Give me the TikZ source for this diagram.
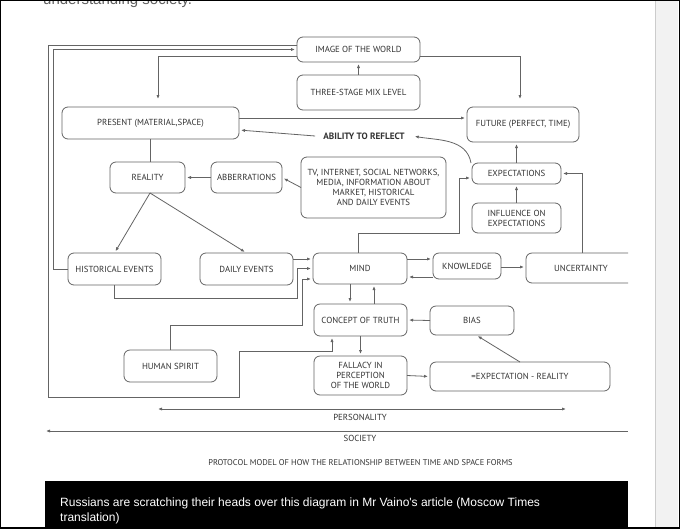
\documentclass[tikz,border=0pt]{standalone}
\usepackage{fontspec}
\setmainfont{PT Sans}
\newfontfamily\capfont{Liberation Sans}
\usetikzlibrary{arrows.meta}
\definecolor{linec}{RGB}{100,100,100}
\definecolor{txtc}{RGB}{50,50,50}
\definecolor{toptxt}{RGB}{95,95,95}
\tikzset{
  box/.style={draw=linec, line width=0.8pt, rounded corners=6pt, inner sep=0pt, outer sep=0pt,
    text=txtc, font=\fontsize{8.8}{10}\selectfont, align=center},
  lbl/.style={text=txtc, font=\fontsize{8.8}{10}\selectfont, inner sep=0pt},
  con/.style={draw=linec, line width=0.8pt},
  arr/.style={con, -{Latex[length=4pt,width=3.2pt]}, shorten >=2pt},
}
\begin{document}
\begin{tikzpicture}[x=1pt,y=-1pt]
\useasboundingbox (0,0) rectangle (680,528);
\begin{scope}
\clip (0,0) rectangle (680,528);
\fill[white] (0,0) rectangle (680,528);
% scrollbar
\fill[black!5] (655,0) rectangle (678,528);
\draw[black!20, line width=0.6pt] (655,0) -- (655,528);
% top cut text
\node[anchor=base west, inner sep=0pt, text=toptxt, font=\capfont\fontsize{15}{15}\selectfont] (top) at (43,4) {understanding society.};

% nodes
\node[box, minimum width=123, minimum height=25] (img) at (358.5,49.5) {IMAGE OF THE WORLD};
\node[box, minimum width=123, minimum height=35] (three) at (358.5,92.5) {THREE-STAGE MIX LEVEL};
\node[box, minimum width=177, minimum height=32] (present) at (150.5,123) {PRESENT (MATERIAL,SPACE)};
\node[box, minimum width=112, minimum height=35] (future) at (523,124.5) {FUTURE (PERFECT, TIME)};
\node[lbl, font=\fontsize{9.2}{10}\selectfont\bfseries, inner xsep=8pt, inner ysep=2pt] (ability) at (364,136) {ABILITY TO REFLECT};
\node[box, minimum width=75, minimum height=31] (reality) at (147.5,177.5) {REALITY};
\node[box, minimum width=71, minimum height=31] (abb) at (246.5,177.5) {ABBERRATIONS};
\node[box, minimum width=145, minimum height=61] (tv) at (373.5,187.5) {TV, INTERNET, SOCIAL NETWORKS,\\ MEDIA, INFORMATION ABOUT\\ MARKET, HISTORICAL\\ AND DAILY EVENTS};
\node[box, minimum width=89, minimum height=21] (expect) at (516.5,173.5) {EXPECTATIONS};
\node[box, minimum width=89, minimum height=30] (infl) at (516.5,218) {INFLUENCE ON\\ EXPECTATIONS};
\node[box, minimum width=93, minimum height=32] (hist) at (114.5,269) {HISTORICAL EVENTS};
\node[box, minimum width=93, minimum height=32] (daily) at (246.5,269) {DAILY EVENTS};
\node[box, minimum width=94, minimum height=31] (mind) at (360,268.5) {MIND};
\node[box, minimum width=68, minimum height=26] (know) at (467,266) {KNOWLEDGE};
\node[box, draw=none, minimum width=102, minimum height=30] (unc) at (577,268) {};
\node[lbl] (unctext) at (581,268) {UNCERTAINTY};
\draw[con, rounded corners=6pt] (unc.north east) -- (unc.north west) -- (unc.south west) -- (unc.south east);
\node[box, minimum width=93, minimum height=32] (concept) at (360.5,320) {CONCEPT OF TRUTH};
\node[box, minimum width=84, minimum height=29] (bias) at (472,320.5) {BIAS};
\node[box, minimum width=93, minimum height=32] (human) at (170.5,366) {HUMAN SPIRIT};
\node[box, minimum width=93, minimum height=39] (fallacy) at (360.5,375.5) {FALLACY IN\\ PERCEPTION\\ OF THE WORLD};
\node[box, minimum width=180, minimum height=29] (eq) at (520,376.5) {=EXPECTATION - REALITY};

% connectors
\draw[arr] (hist.west) -- ++(-15,0) |- (img.west);
\draw[arr] ([yshift=4.5pt]img.west) -| (48,397) -| (239,351) -| ([xshift=-28.5pt]concept.south);
\draw[arr, shorten >=8pt] ([yshift=-6.5pt]img.west) -| ([xshift=7.5pt]present.north);
\draw[arr, shorten >=8pt] ([yshift=-6.5pt]img.east) -| ([xshift=-3pt]future.north);
\draw[arr] (three.north) -- (img.south);
\draw[arr] ([yshift=5pt]present.east) -- ([yshift=6.5pt]future.west);
\draw[arr] (ability.west) -- ([yshift=-7pt]present.east);
\draw[arr] ([xshift=-1pt]expect.north west) to[out=100, in=-10] (ability.east);
\draw[arr] (expect.north) -- (expect.north |- future.south);
\draw[arr] (infl.north) -- (expect.south);
\draw[arr] ([xshift=5pt]unc.north) |- (expect.east);
\draw[arr] ([xshift=-2pt]mind.north) -- ++(0,-20) -| (459,178) -- ([yshift=-4.5pt]expect.west);
\draw[con] ([xshift=2.5pt]reality.north) -- ([xshift=2.5pt]reality.north |- present.south);
\draw[arr] (abb.west) -- (reality.east);
\draw[arr] (tv.west) -- (abb.east);
\draw[arr] ([xshift=2.5pt]reality.south) -- (hist.north);
\draw[arr] ([xshift=2.5pt]reality.south) -- (daily.north);
\draw[arr] ([yshift=10pt]daily.east) -- ([yshift=9.5pt]mind.west);
\draw[arr] (hist.south) |- (297,298) |- (mind.west);
\draw[arr] (human.north) |- (302,325) |- ([yshift=-10.5pt]mind.west);
\draw[arr] ([yshift=9.5pt]mind.east) -- ([yshift=7pt]know.west);
\draw[arr] ([yshift=-11pt]know.west) -- ([yshift=-8.5pt]mind.east);
\draw[arr] ([yshift=-1pt]know.east) -- ([yshift=1pt]unc.west);
\draw[arr] ([xshift=-10pt]mind.south) -- ([xshift=-10.5pt]concept.north);
\draw[arr] ([xshift=13.5pt]concept.north) -- ([xshift=14pt]mind.south);
\draw[arr] (bias.west) -- (concept.east);
\draw[arr] (concept.south) -- (fallacy.north);
\draw[arr] (fallacy.east) -- (eq.west);
\draw[arr] (eq.north) -- ([xshift=4pt]bias.south);

% personality / society
\coordinate (pL) at (158,409);
\coordinate (pR) at (566,409);
\draw[con, {Latex[length=4pt,width=3.2pt]}-{Latex[length=4pt,width=3.2pt]}] (pL) -- (pR);
\node[lbl] (pers) at (360,417) {PERSONALITY};
\coordinate (sL) at (46,431);
\coordinate (sR) at (628,431);
\draw[con, {Latex[length=4pt,width=3.2pt]}-] (sL) -- (sR);
\node[lbl] (soc) at (360,438) {SOCIETY};
\node[lbl, font=\fontsize{8.4}{10}\selectfont] (proto) at (360.5,463) {PROTOCOL MODEL OF HOW THE RELATIONSHIP BETWEEN TIME AND SPACE FORMS};

% caption bar
\fill[black] (45,481) rectangle (628,530);
\node[anchor=base west, inner sep=0pt, text=white, font=\capfont\fontsize{12}{14}\selectfont] (cap1) at (60,506) {Russians are scratching their heads over this diagram in Mr Vaino's article (Moscow Times};
\node[anchor=base west, inner sep=0pt, text=white, font=\capfont\fontsize{12}{14}\selectfont] (cap2) at (60,521) {translation)};
\end{scope}
% screenshot frame
\draw[black, line width=2pt] (0,0) rectangle (680,528);
\end{tikzpicture}
\end{document}
